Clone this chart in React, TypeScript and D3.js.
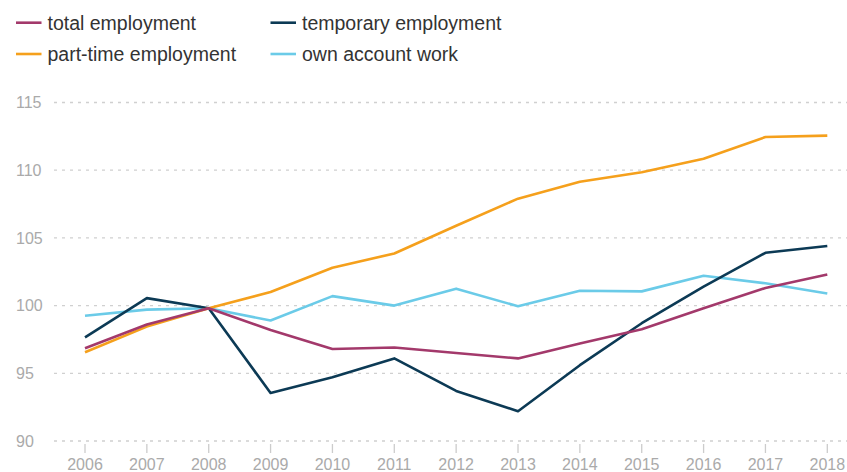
import * as d3 from 'd3'
import { useRef, useEffect } from 'react'

const years = [2006, 2007, 2008, 2009, 2010, 2011, 2012, 2013, 2014, 2015, 2016, 2017, 2018]
const totalEmployment = [96.85, 98.6, 99.8, 98.2, 96.8, 96.9, 96.5, 96.1, 97.2, 98.25, 99.8, 101.3, 102.3]
const temporaryEmployment = [97.65, 100.55, 99.8, 93.55, 94.7, 96.1, 93.7, 92.2, 95.6, 98.7, 101.4, 103.9, 104.4]
const partTimeEmployment = [96.55, 98.45, 99.8, 101.0, 102.8, 103.85, 105.9, 107.9, 109.15, 109.85, 110.85, 112.45, 112.55]
const ownAccountWork = [99.25, 99.7, 99.8, 98.9, 100.7, 100.0, 101.25, 99.95, 101.1, 101.05, 102.2, 101.65, 100.9]
const yTicks = [90, 95, 100, 105, 110, 115]

const seriesList = [
  { name: 'total employment', values: totalEmployment, color: '#a3396b' },
  { name: 'temporary employment', values: temporaryEmployment, color: '#0c3a55' },
  { name: 'part-time employment', values: partTimeEmployment, color: '#f5a01c' },
  { name: 'own account work', values: ownAccountWork, color: '#6bcbe8' },
]

export default function App() {
  const svgRef = useRef<SVGSVGElement>(null)
  useEffect(() => {
    const width = 847
    const height = 472
    const svg = d3.select(svgRef.current)
    svg.selectAll('*').remove()
    svg.attr('width', width).attr('height', height)

    const font = 'Arial, "Liberation Sans", sans-serif'
    const xScale = d3.scaleLinear().domain([2006, 2018]).range([85, 827.3])
    const yScale = d3.scaleLinear().domain([90, 115]).range([441, 102.5])

    // grid + y labels
    const grid = svg.append('g')
    yTicks.forEach(t => {
      grid.append('line')
        .attr('x1', 54).attr('x2', width)
        .attr('y1', yScale(t)).attr('y2', yScale(t))
        .attr('stroke', '#d0d0d0')
        .attr('stroke-width', 1.3)
        .attr('stroke-dasharray', '3,5')
      grid.append('text')
        .text(t)
        .attr('x', 16).attr('y', yScale(t))
        .attr('dy', '0.35em')
        .attr('font-family', font)
        .attr('font-size', 16)
        .attr('fill', '#aaaaaa')
    })

    // x ticks
    const xAxis = svg.append('g')
    years.forEach(y => {
      xAxis.append('line')
        .attr('x1', xScale(y)).attr('x2', xScale(y))
        .attr('y1', 444).attr('y2', 453)
        .attr('stroke', '#cccccc')
        .attr('stroke-width', 1.3)
      xAxis.append('text')
        .text(y)
        .attr('x', xScale(y)).attr('y', 469.5)
        .attr('text-anchor', 'middle')
        .attr('font-family', font)
        .attr('font-size', 16)
        .attr('fill', '#aaaaaa')
    })

    const line = d3.line<number>()
      .x((_, i) => xScale(years[i]))
      .y(d => yScale(d))

    const drawOrder = [3, 1, 2, 0]
    drawOrder.forEach(i => {
      const s = seriesList[i]
      svg.append('path')
        .attr('d', line(s.values))
        .attr('fill', 'none')
        .attr('stroke', s.color)
        .attr('stroke-width', 2.6)
        .attr('stroke-linejoin', 'round')
    })

    // legend
    const legend = svg.append('g')
    seriesList.forEach((s, i) => {
      const col = i % 2
      const row = Math.floor(i / 2)
      const lx = col === 0 ? 16 : 270.5
      const ly = row === 0 ? 22.7 : 54
      legend.append('line')
        .attr('x1', lx).attr('x2', lx + 25.5)
        .attr('y1', ly).attr('y2', ly)
        .attr('stroke', s.color)
        .attr('stroke-width', 2.6)
      legend.append('text')
        .text(s.name)
        .attr('x', lx + 31.5).attr('y', ly + 6.8)
        .attr('font-family', font)
        .attr('font-size', 19.5)
        .attr('fill', '#333333')
    })
  }, [])
  return (
    <svg ref={svgRef} style={{ position: 'absolute', left: 0, top: 0 }}></svg>
  )
}
